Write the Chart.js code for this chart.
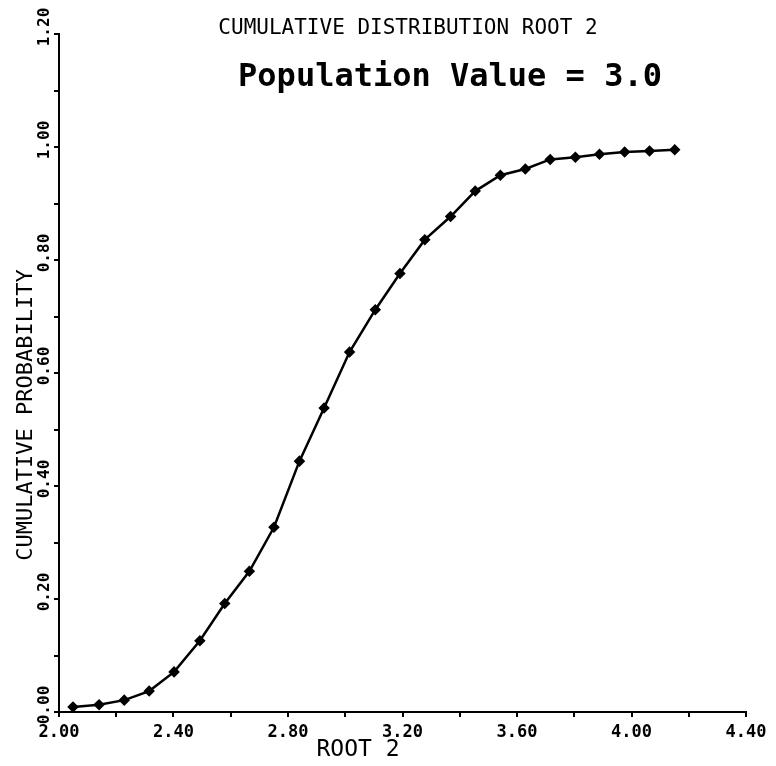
<!DOCTYPE html>
<html>
<head>
<meta charset="utf-8">
<script src="https://cdn.jsdelivr.net/npm/chart.js@4.4.1/dist/chart.umd.min.js"></script>
<style>
  html, body { margin: 0; padding: 0; background: #fff; }
  #wrap { width: 776px; height: 766px; position: relative; }
</style>
</head>
<body>
<div id="wrap"><canvas id="myChart"></canvas></div>
<script>
const TITLE = 'CUMULATIVE DISTRIBUTION ROOT 2';
const SUBTITLE = 'Population Value = 3.0';
const X_LABEL = 'ROOT 2';
const Y_LABEL = 'CUMULATIVE PROBABILITY';

// root 2 values (x) and cumulative probability (y)
const root2 = [2.049, 2.140, 2.228, 2.315, 2.402, 2.492, 2.579, 2.665, 2.751, 2.840,
  2.926, 3.015, 3.105, 3.191, 3.278, 3.368, 3.454, 3.542, 3.629, 3.716,
  3.804, 3.888, 3.976, 4.063, 4.151];
const cumProb = [0.009, 0.013, 0.021, 0.037, 0.071, 0.126, 0.192, 0.249, 0.327, 0.444,
  0.538, 0.637, 0.712, 0.776, 0.836, 0.877, 0.922, 0.950, 0.961, 0.978,
  0.982, 0.987, 0.991, 0.993, 0.995];

const xTickLabels = ['2.00', '2.40', '2.80', '3.20', '3.60', '4.00', '4.40'];
const yTickLabels = ['0.00', '0.20', '0.40', '0.60', '0.80', '1.00', '1.20'];

const MONO = '"DejaVu Sans Mono", "Liberation Mono", monospace';

// draws titles and the rotated y tick labels
const textPlugin = {
  id: 'textPlugin',
  afterDraw(chart) {
    const ctx = chart.ctx;
    const yScale = chart.scales.y;
    ctx.save();
    ctx.fillStyle = '#000';
    ctx.textAlign = 'center';
    ctx.textBaseline = 'middle';

    ctx.font = '21px ' + MONO;
    ctx.fillText(TITLE, 408, 29);

    ctx.font = 'bold 32px ' + MONO;
    ctx.fillText(SUBTITLE, 450, 78);

    ctx.font = '23px ' + MONO;
    ctx.fillText(X_LABEL, 358, 750);

    // y axis title
    ctx.save();
    ctx.translate(26, 415);
    ctx.rotate(-Math.PI / 2);
    ctx.font = '22px ' + MONO;
    ctx.fillText(Y_LABEL, 0, 0);
    ctx.restore();

    // y tick labels, rotated
    ctx.font = 'bold 16px ' + MONO;
    yTickLabels.forEach((lab) => {
      const py = yScale.getPixelForValue(parseFloat(lab));
      ctx.save();
      ctx.translate(45, py - 7);
      ctx.rotate(-Math.PI / 2);
      ctx.fillText(lab, 0, 0);
      ctx.restore();
    });
    ctx.restore();
  }
};

const data = {
  datasets: [{
    label: Y_LABEL,
    data: root2.map((x, i) => ({x: x, y: cumProb[i]})),
    borderColor: '#000',
    backgroundColor: '#000',
    borderWidth: 2.5,
    pointStyle: 'rectRot',
    pointRadius: 4,
    pointBackgroundColor: '#000',
    pointBorderColor: '#000',
    tension: 0,
    fill: false,
  }]
};

const config = {
  type: 'line',
  data: data,
  options: {
    responsive: true,
    maintainAspectRatio: false,
    animation: false,
    layout: {
      padding: {top: 34, right: 30, left: 0, bottom: 0}
    },
    plugins: {
      legend: {display: false},
      title: {display: false},
      tooltip: {enabled: false},
    },
    scales: {
      x: {
        type: 'linear',
        min: 2.0,
        max: 4.4,
        afterFit: (scale) => { scale.height = 54; },
        border: {display: true, color: '#000', width: 2},
        grid: {
          drawOnChartArea: false,
          drawTicks: true,
          tickLength: 5,
          color: '#000',
          lineWidth: 2,
        },
        ticks: {
          stepSize: 0.2,
          autoSkip: false,
          maxRotation: 0,
          padding: 5,
          color: '#000',
          font: {family: MONO, size: 17, weight: 'bold'},
          callback: (value) => {
            const s = value.toFixed(2);
            return xTickLabels.includes(s) ? s : '';
          },
        },
      },
      y: {
        min: 0,
        max: 1.2,
        afterFit: (scale) => { scale.width = 59; },
        border: {display: true, color: '#000', width: 2},
        grid: {
          drawOnChartArea: false,
          drawTicks: true,
          tickLength: 5,
          color: '#000',
          lineWidth: 2,
        },
        ticks: {
          stepSize: 0.1,
          display: false,
        },
      },
    },
  },
  plugins: [textPlugin],
};

const myChart = new Chart(document.getElementById('myChart'), config);
</script>
</body>
</html>
